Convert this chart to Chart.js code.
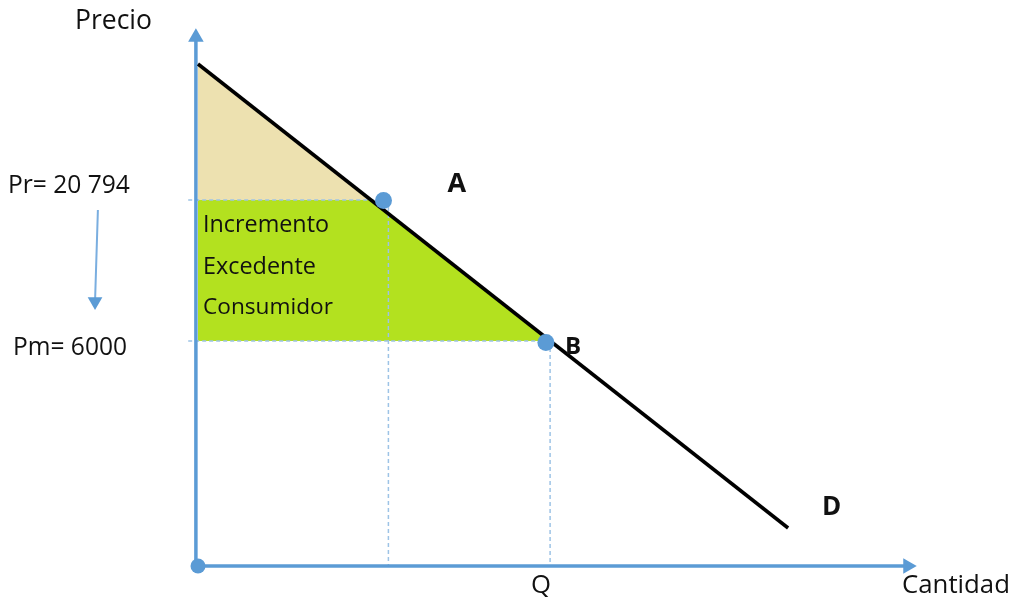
<!DOCTYPE html>
<html>
<head>
<meta charset="utf-8">
<script src="https://cdn.jsdelivr.net/npm/chart.js@4/dist/chart.umd.min.js"></script>
<style>
  html, body { margin: 0; padding: 0; background: #ffffff; }
  canvas { display: block; }
</style>
</head>
<body>
<canvas id="c" width="1011" height="598"></canvas>
<script>
// ---- Data (diagram units: quantity 0..100, price 0..100) ----
const axisTitles = ['Precio', 'Cantidad'];
const demandLabel = 'D';
const qLabel = 'Q';
const surplusLabel = ['Incremento', 'Excedente', 'Consumidor'];
const priceLabels = ['Pr= 20 794', 'Pm= 6000'];
const priceLevels = [73.2, 45.0];          // Pr, Pm levels
const demandQ = [0, 84.3];                   // demand line ends
const demandP = [100.4, 7.6];
const pointLabels = ['A', 'B'];
const pointQ = [26.5, 49.7];
const pointP = [73.1, 44.7];
const dropQ = [27.2, 50.3];                  // vertical dashed guides
const cornerQ = [24.7, 50.3];                // demand crossing at Pr and Pm
const yAxisQ = -0.3, yAxisTop = 105.74, xAxisEnd = 101.39;
const arrowQ = [-14.3, -14.71], arrowP = [71.2, 52.9];

const blue = '#5b9bd5';
const dashBlue = '#9dc3e6';

const pts = (xs, ys) => xs.map((x, i) => ({ x, y: ys[i] }));

const datasets = [
  // tan triangle (original surplus)
  { data: [{x: 0, y: demandP[0]}, {x: cornerQ[0], y: priceLevels[0]}],
    showLine: true, borderWidth: 0, pointRadius: 0,
    backgroundColor: '#ede1b0', fill: { value: priceLevels[0] }, order: 20 },
  // green area (increment)
  { data: [{x: 0, y: priceLevels[0]}, {x: cornerQ[0], y: priceLevels[0]}, {x: cornerQ[1], y: priceLevels[1]}],
    showLine: true, borderWidth: 0, pointRadius: 0,
    backgroundColor: '#b3e11f', fill: { value: priceLevels[1] }, order: 19 },
  // dashed guides
  { data: [{x: -1.4, y: priceLevels[0]}, {x: pointQ[0], y: priceLevels[0]}], showLine: true,
    borderColor: dashBlue, borderWidth: 1.5, borderDash: [4, 3], pointRadius: 0, fill: false, order: 15 },
  { data: [{x: -1.4, y: priceLevels[1]}, {x: pointQ[1], y: priceLevels[1]}], showLine: true,
    borderColor: dashBlue, borderWidth: 1.5, borderDash: [4, 3], pointRadius: 0, fill: false, order: 15 },
  { data: [{x: dropQ[0], y: priceLevels[0]}, {x: dropQ[0], y: 0}], showLine: true,
    borderColor: dashBlue, borderWidth: 1.5, borderDash: [4, 3], pointRadius: 0, fill: false, order: 15 },
  { data: [{x: dropQ[1], y: priceLevels[1]}, {x: dropQ[1], y: 0}], showLine: true,
    borderColor: dashBlue, borderWidth: 1.5, borderDash: [4, 3], pointRadius: 0, fill: false, order: 15 },
  // axes
  { data: [{x: yAxisQ, y: 0}, {x: yAxisQ, y: yAxisTop}], showLine: true,
    borderColor: blue, borderWidth: 3.5, pointRadius: [0, 9], pointStyle: 'triangle',
    pointBackgroundColor: blue, pointBorderWidth: 0, fill: false, order: 10 },
  { data: [{x: yAxisQ, y: 0}, {x: xAxisEnd, y: 0}], showLine: true,
    borderColor: blue, borderWidth: 3.5, pointRadius: [0, 9], pointStyle: 'triangle',
    pointRotation: 90, pointBackgroundColor: blue, pointBorderWidth: 0, fill: false, order: 10 },
  // origin dot
  { data: [{x: 0, y: 0}], pointRadius: 7.5, pointBackgroundColor: blue, pointBorderWidth: 0, order: 9 },
  // small arrow Pr -> Pm
  { data: pts(arrowQ, arrowP), showLine: true, borderColor: '#7aaee0', borderWidth: 2,
    pointRadius: [0, 8.5], pointStyle: 'triangle', pointRotation: 180,
    pointBackgroundColor: blue, pointBorderWidth: 0, fill: false, order: 9 },
  // demand line
  { data: pts(demandQ, demandP), showLine: true, borderColor: '#000000', borderWidth: 3.5,
    pointRadius: 0, fill: false, order: 5 },
  // points A and B
  { data: pts(pointQ, pointP), pointRadius: 8.5, pointBackgroundColor: blue,
    pointBorderColor: blue, pointBorderWidth: 0, order: 1 }
];

function fitFont(ctx, text, width, weight) {
  ctx.font = weight + ' 100px "Open Sans"';
  const w = ctx.measureText(text).width;
  return weight + ' ' + (100 * width / w).toFixed(2) + 'px "Open Sans"';
}

const textPlugin = {
  id: 'texts',
  afterDraw(chart) {
    const ctx = chart.ctx;
    const X = v => chart.scales.x.getPixelForValue(v);
    const Y = v => chart.scales.y.getPixelForValue(v);
    const x0 = X(0), yPr = Y(priceLevels[0]), yPm = Y(priceLevels[1]), yBase = Y(0);
    // [text, x, baseline, targetWidth or null, weight, fixedSize]
    const items = [
      [axisTitles[0], 75, 29, 77, 'normal'],
      [priceLabels[0], 8, yPr - 7, 122, 'normal'],
      [priceLabels[1], 13, yPm + 14, 114, 'normal'],
      [surplusLabel[0], x0 + 5, yPr + 32, 126, 'normal'],
      [surplusLabel[1], x0 + 5, yPr + 74, 113, 'normal'],
      [surplusLabel[2], x0 + 5, yPr + 114, 130, 'normal'],
      [pointLabels[0], X(pointQ[0]) + 64, Y(pointP[0]) - 9, null, 'bold', 27],
      [pointLabels[1], X(pointQ[1]) + 19, Y(pointP[1]) + 11, null, 'bold', 24],
      [demandLabel, X(demandQ[1]) + 34, Y(demandP[1]) - 13, null, 'bold', 26]
      ,[qLabel, X(dropQ[1]) - 19, yBase + 27, 20, 'normal'],
      [axisTitles[1], 902, yBase + 27, 108, 'normal']
    ];
    ctx.save();
    ctx.fillStyle = '#111111';
    ctx.textBaseline = 'alphabetic';
    ctx.textAlign = 'left';
    for (const [t, x, y, w, wt, size] of items) {
      ctx.font = w ? fitFont(ctx, t, w, wt) : (wt + ' ' + size + 'px "Open Sans"');
      ctx.fillText(t, x, y);
    }
    ctx.restore();
  }
};

// Scale ranges chosen so the plot area covers the whole canvas:
// 7 px per quantity unit from x=198, 5 px per price unit from y=566.
new Chart(document.getElementById('c'), {
  type: 'scatter',
  data: { datasets: datasets.map(d => Object.assign({ clip: false }, d)) },
  options: {
    responsive: false,
    animation: false,
    layout: { padding: 0, autoPadding: false },
    plugins: { legend: { display: false }, tooltip: { enabled: false } },
    scales: {
      x: { type: 'linear', min: -198 / 7, max: (1011 - 198) / 7, display: false },
      y: { type: 'linear', min: -(598 - 566) / 5, max: 566 / 5, display: false }
    }
  },
  plugins: [textPlugin]
});
</script>
</body>
</html>
